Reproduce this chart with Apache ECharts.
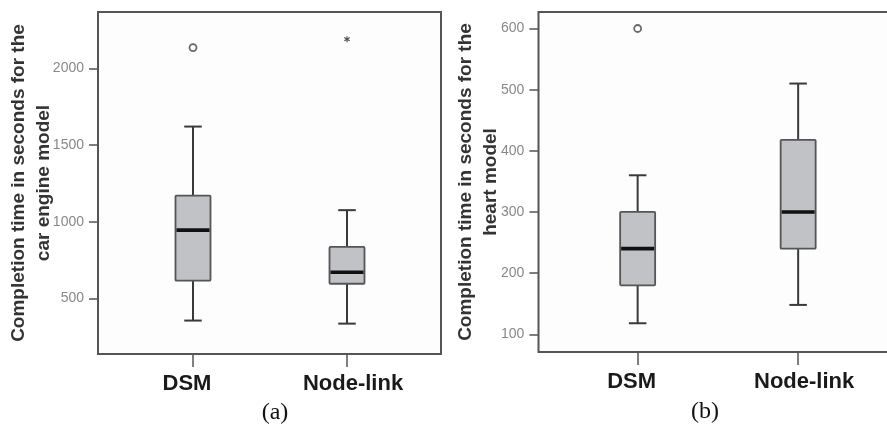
<!DOCTYPE html>
<html>
<head>
<meta charset="utf-8">
<script src="https://cdn.jsdelivr.net/npm/echarts@6/dist/echarts.min.js"></script>
<style>
html,body{margin:0;padding:0;background:#fff;}
#chart{width:887px;height:434px;}
</style>
</head>
<body>
<div id="chart"></div>
<script>
// ---- data ----
const categories = ['DSM', 'Node-link'];

// (a) car engine model
const carLow  = [355, 335];
const carQ1   = [615, 595];
const carMed  = [945, 670];
const carQ3   = [1170, 835];
const carHigh = [1620, 1075];
const carCircleOutliers = [['DSM', 2135]];
const carStarOutliers   = [['Node-link', 2190]];
const carTicks = [500, 1000, 1500, 2000];
const carRange = [137, 2367];

// (b) heart model
const heartLow  = [118, 148];
const heartQ1   = [180, 240];
const heartMed  = [240, 300];
const heartQ3   = [300, 418];
const heartHigh = [360, 510];
const heartCircleOutliers = [['DSM', 600]];
const heartStarOutliers   = [];
const heartTicks = [100, 200, 300, 400, 500, 600];
const heartRange = [71, 627];

const yNameA = 'Completion time in seconds for the\ncar engine model';
const yNameB = 'Completion time in seconds for the\nheart model';

// ---- build ----
function boxData(low, q1, med, q3, high) {
  return categories.map((c, i) => [c, low[i], q1[i], med[i], q3[i], high[i]]);
}

const BOX_W = 35;
function renderBox(params, api) {
  const x = api.value(0);
  const pLow = api.coord([x, api.value(1)]);
  const pQ1 = api.coord([x, api.value(2)]);
  const pMed = api.coord([x, api.value(3)]);
  const pQ3 = api.coord([x, api.value(4)]);
  const pHigh = api.coord([x, api.value(5)]);
  const cx = pMed[0];
  const half = BOX_W / 2;
  const cap = BOX_W / 4;
  const lineStyle = {stroke: '#3a3a3a', lineWidth: 2};
  return {
    type: 'group',
    children: [
      {type: 'line', shape: {x1: cx, y1: pLow[1], x2: cx, y2: pQ1[1]}, style: lineStyle},
      {type: 'line', shape: {x1: cx, y1: pQ3[1], x2: cx, y2: pHigh[1]}, style: lineStyle},
      {type: 'line', shape: {x1: cx - cap, y1: pLow[1], x2: cx + cap, y2: pLow[1]}, style: lineStyle},
      {type: 'line', shape: {x1: cx - cap, y1: pHigh[1], x2: cx + cap, y2: pHigh[1]}, style: lineStyle},
      {type: 'rect', shape: {x: cx - half, y: pQ3[1], width: BOX_W, height: pQ1[1] - pQ3[1], r: 1},
        style: {fill: '#c1c2c6', stroke: '#555', lineWidth: 1.8}},
      {type: 'line', shape: {x1: cx - half + 1, y1: pMed[1], x2: cx + half - 1, y2: pMed[1]},
        style: {stroke: '#111', lineWidth: 3.6}}
    ]
  };
}

const starPath = 'path://M-1,-5L1,-5L1,-1.7L4.3,-3.6L5.3,-1.9L2,0L5.3,1.9L4.3,3.6L1,1.7L1,5L-1,5L-1,1.7L-4.3,3.6L-5.3,1.9L-2,0L-5.3,-1.9L-4.3,-3.6L-1,-1.7Z';

function yAxisCfg(gridIndex, range, ticks, name, offset, nameGap) {
  return {
    type: 'value', gridIndex: gridIndex, min: range[0], max: range[1],
    offset: offset, position: 'left',
    splitLine: {show: false},
    axisLine: {show: false},
    axisTick: {show: true, length: 9, customValues: ticks, lineStyle: {color: '#555', width: 1.5}},
    axisLabel: {customValues: ticks, margin: 14, color: '#888', fontSize: 14, fontFamily: 'Liberation Sans',
      formatter: function (v) { return String(v); }},
    name: name, nameLocation: 'middle', nameGap: nameGap, nameMoveOverlap: false,
    nameTextStyle: {fontSize: 19, fontWeight: 'bold', color: '#333', lineHeight: 25, fontFamily: 'Liberation Sans'}
  };
}
function xAxisCfg(gridIndex) {
  return {
    type: 'category', gridIndex: gridIndex, data: categories, boundaryGap: true,
    axisLine: {show: false},
    axisTick: {show: true, alignWithLabel: true, interval: 0, length: 13, lineStyle: {color: '#555', width: 1.5}},
    axisLabel: {interval: 0, hideOverlap: false, margin: 19, fontSize: 22, fontWeight: 'bold', color: '#1a1a1a', fontFamily: 'Liberation Sans',
      formatter: function (v, i) { return i === 0 ? '{l|' + v + '}' : '{r|' + v + '}'; },
      rich: {
        l: {fontSize: 22, fontWeight: 'bold', color: '#1a1a1a', fontFamily: 'Liberation Sans', padding: [0, 12, 0, 0]},
        r: {fontSize: 22, fontWeight: 'bold', color: '#1a1a1a', fontFamily: 'Liberation Sans', padding: [0, 0, 0, 12]}
      }},
    splitLine: {show: false}
  };
}

const option = {
  animation: false,
  backgroundColor: '#ffffff',
  textStyle: {fontFamily: 'Liberation Sans'},
  grid: [
    // outer frames
    {left: 98, top: 12, width: 343, height: 342, show: true, borderColor: '#555', borderWidth: 2, backgroundColor: '#fdfdfd', outerBoundsMode: 'none'},
    {left: 538.5, top: 12, width: 380, height: 340, show: true, borderColor: '#555', borderWidth: 2, backgroundColor: '#fdfdfd', outerBoundsMode: 'none'},
    // inner plotting grids
    {left: 116, top: 12, width: 308, height: 342, outerBoundsMode: 'none'},
    {left: 557.4, top: 12, width: 321, height: 340, outerBoundsMode: 'none'}
  ],
  xAxis: [
    {type: 'value', gridIndex: 0, show: false},
    {type: 'value', gridIndex: 1, show: false},
    xAxisCfg(2),
    xAxisCfg(3)
  ],
  yAxis: [
    {type: 'value', gridIndex: 0, show: false},
    {type: 'value', gridIndex: 1, show: false},
    yAxisCfg(2, carRange, carTicks, yNameA, 18, 42),
    yAxisCfg(3, heartRange, heartTicks, yNameB, 19, 35)
  ],
  series: [
    {type: 'custom', xAxisIndex: 2, yAxisIndex: 2, renderItem: renderBox,
      encode: {x: 0, y: [1, 2, 3, 4, 5]}, data: boxData(carLow, carQ1, carMed, carQ3, carHigh)},
    {type: 'custom', xAxisIndex: 3, yAxisIndex: 3, renderItem: renderBox,
      encode: {x: 0, y: [1, 2, 3, 4, 5]}, data: boxData(heartLow, heartQ1, heartMed, heartQ3, heartHigh)},
    {type: 'scatter', xAxisIndex: 2, yAxisIndex: 2, data: carCircleOutliers, symbol: 'circle', symbolSize: 7,
      itemStyle: {color: '#fdfdfd', borderColor: '#444', borderWidth: 1.8}},
    {type: 'scatter', xAxisIndex: 2, yAxisIndex: 2, data: carStarOutliers, symbol: starPath, symbolSize: 6,
      itemStyle: {color: '#222'}},
    {type: 'scatter', xAxisIndex: 3, yAxisIndex: 3, data: heartCircleOutliers, symbol: 'circle', symbolSize: 7,
      itemStyle: {color: '#fdfdfd', borderColor: '#444', borderWidth: 1.8}},
    {type: 'scatter', xAxisIndex: 3, yAxisIndex: 3, data: heartStarOutliers, symbol: starPath, symbolSize: 6,
      itemStyle: {color: '#222'}}
  ],
  graphic: [
    {type: 'text', x: 275, y: 413, style: {text: '(a)', align: 'center', verticalAlign: 'middle', font: '24px "Liberation Serif"', fill: '#111'}},
    {type: 'text', x: 705, y: 412, style: {text: '(b)', align: 'center', verticalAlign: 'middle', font: '24px "Liberation Serif"', fill: '#111'}}
  ]
};

const chart = echarts.init(document.getElementById('chart'), null, {renderer: 'canvas'});
chart.setOption(option);
</script>
</body>
</html>
